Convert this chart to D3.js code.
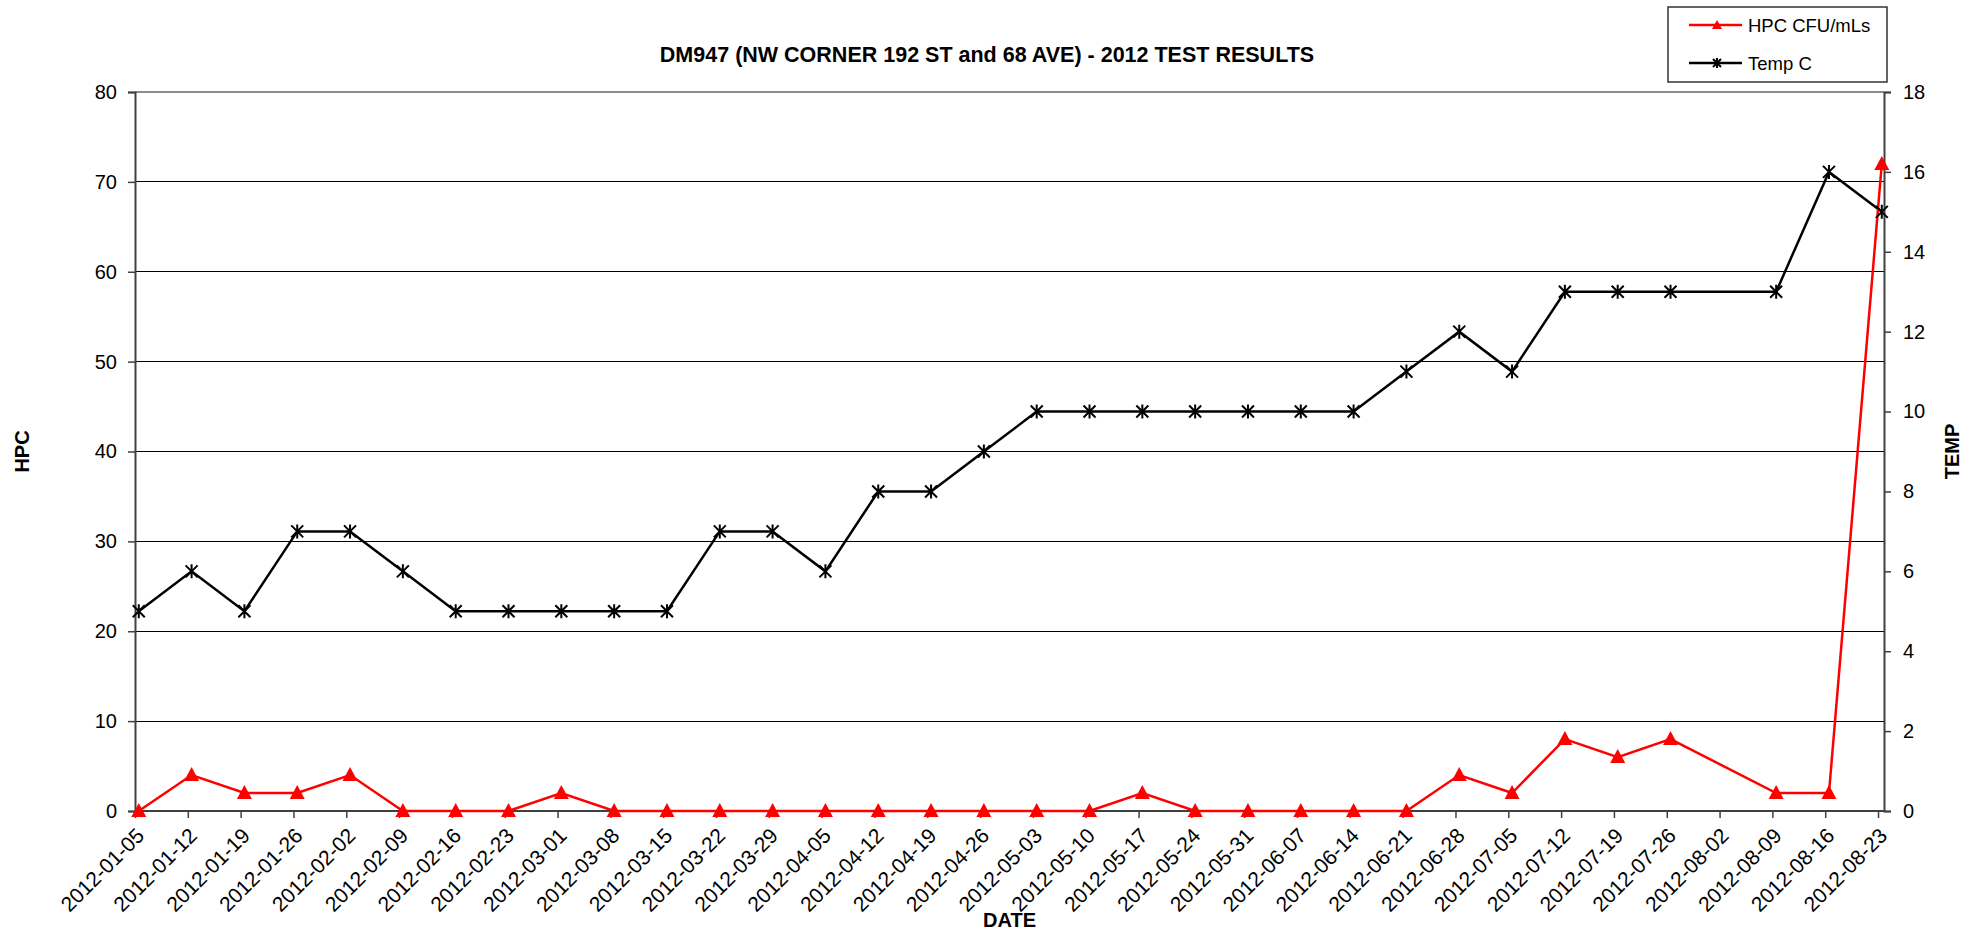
<!DOCTYPE html>
<html><head><meta charset="utf-8">
<script src="https://cdn.jsdelivr.net/npm/d3@7"></script>
<style>
html,body{margin:0;padding:0;background:#fff;}
svg{display:block;font-family:"Liberation Sans",Arial,sans-serif;}
</style></head>
<body>
<svg id="chart" width="1980" height="934"></svg>
<script>
// ---- data ----
const title = "DM947 (NW CORNER 192 ST and 68 AVE) - 2012 TEST RESULTS";
const sampleDates = ["2012-01-05","2012-01-12","2012-01-19","2012-01-26","2012-02-02","2012-02-09","2012-02-16","2012-02-23","2012-03-01","2012-03-08","2012-03-15","2012-03-22","2012-03-29","2012-04-05","2012-04-12","2012-04-19","2012-04-26","2012-05-03","2012-05-10","2012-05-17","2012-05-24","2012-05-31","2012-06-07","2012-06-14","2012-06-21","2012-06-28","2012-07-05","2012-07-12","2012-07-19","2012-07-26","2012-08-09","2012-08-16","2012-08-23"];
const hpcValues = [0,4,2,2,4,0,0,0,2,0,0,0,0,0,0,0,0,0,0,2,0,0,0,0,0,4,2,8,6,8,2,2,72];
const tempValues = [5,6,5,7,7,6,5,5,5,5,5,7,7,6,8,8,9,10,10,10,10,10,10,10,11,12,11,13,13,13,13,16,15];
const tickLabels = ["2012-01-05","2012-01-12","2012-01-19","2012-01-26","2012-02-02","2012-02-09","2012-02-16","2012-02-23","2012-03-01","2012-03-08","2012-03-15","2012-03-22","2012-03-29","2012-04-05","2012-04-12","2012-04-19","2012-04-26","2012-05-03","2012-05-10","2012-05-17","2012-05-24","2012-05-31","2012-06-07","2012-06-14","2012-06-21","2012-06-28","2012-07-05","2012-07-12","2012-07-19","2012-07-26","2012-08-02","2012-08-09","2012-08-16","2012-08-23"];
const hpcTicks = [0,10,20,30,40,50,60,70,80];
const tempTicks = [0,2,4,6,8,10,12,14,16,18];
const seriesNames = ["HPC CFU/mLs","Temp C"];

// ---- layout ----
const L = 135, R = 1884, T = 92, B = 811;
const svg = d3.select("#chart");
const parse = d3.utcParse("%Y-%m-%d");
const startD = parse(tickLabels[0]);
const endD = new Date(parse(tickLabels[tickLabels.length-1]).getTime() + 19*3600*1000);
const x = d3.scaleUtc().domain([startD, endD]).range([L, R]);
const yL = d3.scaleLinear().domain([0, 80]).range([B, T]);
const yR = d3.scaleLinear().domain([0, 18]).range([B, T]);
const ptDate = s => new Date(parse(s).getTime() + 12*3600*1000);

// gridlines
svg.append("g").selectAll("line").data(hpcTicks.filter(v => v > 0 && v < 80)).join("line")
  .attr("x1", L).attr("x2", R).attr("y1", d => yL(d)).attr("y2", d => yL(d))
  .attr("stroke", "#000").attr("stroke-width", 1).attr("shape-rendering","crispEdges");
svg.append("line").attr("x1", L).attr("x2", R).attr("y1", yL(80)).attr("y2", yL(80))
  .attr("stroke", "#8c8c8c").attr("stroke-width", 2);

// left axis
const gl = svg.append("g").attr("transform", `translate(${L},0)`)
  .call(d3.axisLeft(yL).tickValues(hpcTicks).tickSize(7).tickPadding(11));
gl.select(".domain").attr("stroke", "#404040").attr("stroke-width", 2);
gl.selectAll(".tick line").attr("stroke", "#404040").attr("stroke-width", 1.5);
gl.selectAll("text").attr("font-size", 20).attr("fill", "#000").attr("font-family","Liberation Sans, Arial, sans-serif");

// right axis
const gr = svg.append("g").attr("transform", `translate(${R},0)`)
  .call(d3.axisRight(yR).tickValues(tempTicks).tickSize(7).tickPadding(12));
gr.select(".domain").attr("stroke", "#404040").attr("stroke-width", 2);
gr.selectAll(".tick line").attr("stroke", "#404040").attr("stroke-width", 1.5);
gr.selectAll("text").attr("font-size", 20).attr("fill", "#000").attr("font-family","Liberation Sans, Arial, sans-serif");

// bottom axis
const gb = svg.append("g").attr("transform", `translate(0,${B})`)
  .call(d3.axisBottom(x).tickValues(tickLabels.map(parse)).tickSize(7).tickFormat(d3.utcFormat("%Y-%m-%d")));
gb.select(".domain").remove();
svg.append("line").attr("x1", L).attr("x2", R).attr("y1", B).attr("y2", B).attr("stroke", "#404040").attr("stroke-width", 2);
gb.selectAll(".tick line").attr("stroke", "#404040").attr("stroke-width", 1.5);
gb.selectAll("text").attr("font-size", 21).attr("fill", "#000").attr("font-family","Liberation Sans, Arial, sans-serif")
  .attr("text-anchor", "end").attr("dy", null).attr("y", 0)
  .attr("transform", "translate(10,26) rotate(-45)");

// series lines
const hpcData = sampleDates.map((d, i) => ({d: ptDate(d), v: hpcValues[i]}));
const tempData = sampleDates.map((d, i) => ({d: ptDate(d), v: tempValues[i]}));
svg.append("path").datum(tempData).attr("fill", "none").attr("stroke", "#000").attr("stroke-width", 2.5)
  .attr("d", d3.line().x(p => x(p.d)).y(p => yR(p.v)));
svg.append("path").datum(hpcData).attr("fill", "none").attr("stroke", "#ff0000").attr("stroke-width", 2.5)
  .attr("d", d3.line().x(p => x(p.d)).y(p => yL(p.v)));

// markers
const starPath = "M-6,-6L6,6M-6,6L6,-6M0,-7L0,7";
const triPath = "M0,-8L7.5,6L-7.5,6Z";
svg.append("g").selectAll("path").data(tempData).join("path")
  .attr("transform", p => `translate(${x(p.d)},${yR(p.v)})`)
  .attr("d", starPath).attr("stroke", "#000").attr("stroke-width", 2).attr("fill", "none");
svg.append("g").selectAll("path").data(hpcData).join("path")
  .attr("transform", p => `translate(${x(p.d)},${yL(p.v)})`)
  .attr("d", triPath).attr("fill", "#ff0000");

// titles
svg.append("text").attr("x", 987).attr("y", 62).attr("text-anchor", "middle")
  .attr("font-size", 21.5).attr("font-weight", "bold").text(title);
svg.append("text").attr("transform", `translate(29,${(T+B)/2}) rotate(-90)`).attr("text-anchor", "middle")
  .attr("font-size", 20).attr("font-weight", "bold").text("HPC");
svg.append("text").attr("transform", `translate(1959,${(T+B)/2}) rotate(-90)`).attr("text-anchor", "middle")
  .attr("font-size", 20).attr("font-weight", "bold").text("TEMP");
svg.append("text").attr("x", (L+R)/2).attr("y", 927).attr("text-anchor", "middle")
  .attr("font-size", 20).attr("font-weight", "bold").text("DATE");

// legend
const lg = svg.append("g");
lg.append("rect").attr("x", 1668).attr("y", 7).attr("width", 219).attr("height", 75)
  .attr("fill", "#fff").attr("stroke", "#333").attr("stroke-width", 1.5);
const rows = [{n: seriesNames[0], c: "#ff0000", y: 25}, {n: seriesNames[1], c: "#000", y: 63}];
rows.forEach(r => {
  lg.append("line").attr("x1", 1689).attr("x2", 1742).attr("y1", r.y).attr("y2", r.y).attr("stroke", r.c).attr("stroke-width", 2.5);
  if (r.c === "#ff0000") lg.append("path").attr("d", "M0,-5L5,4L-5,4Z").attr("fill", r.c).attr("transform", `translate(1717,${r.y})`);
  else lg.append("path").attr("d", "M-4,-4L4,4M-4,4L4,-4M0,-5L0,5").attr("stroke", r.c).attr("stroke-width", 2).attr("transform", `translate(1717,${r.y})`);
  lg.append("text").attr("x", 1748).attr("y", r.y + 7).attr("font-size", 18.5).text(r.n);
});
</script>
</body></html>
